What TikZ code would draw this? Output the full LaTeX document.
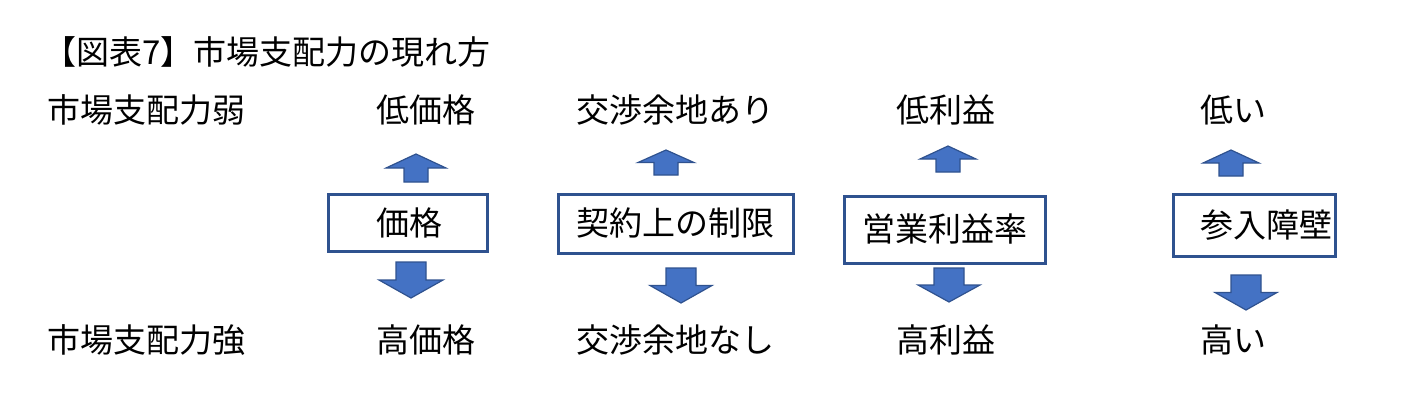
\documentclass[tikz,border=0pt]{standalone}
\usepackage{fontspec}
\setmainfont{Noto Sans CJK JP}
\definecolor{bord}{HTML}{2F528F}
\definecolor{afill}{HTML}{4472C4}
\newcommand{\uparrw}[5]{% cx, top, bottom, headhalf, shafthalf
  \draw[bord,fill=afill,line width=1.2pt] (#1-#4,{#2+(#3-#2)*0.5}) -- (#1,#2) -- (#1+#4,{#2+(#3-#2)*0.5}) -- (#1+#5,{#2+(#3-#2)*0.5}) -- (#1+#5,#3) -- (#1-#5,#3) -- (#1-#5,{#2+(#3-#2)*0.5}) -- cycle;}
\begin{document}
\begin{tikzpicture}[x=1pt,y=-1pt,
  lbl/.style={font=\fontsize{33}{33}\selectfont,inner sep=0pt},
  bx/.style={draw=bord,line width=3pt,fill=white}]
\useasboundingbox (0,0) rectangle (1404,410);
\node[lbl,anchor=west] (title) at (43,52) {【図表7】市場支配力の現れ方};
\node[lbl,anchor=west] (weak) at (47,110) {市場支配力弱};
\node[lbl,anchor=west] (strong) at (47,340) {市場支配力強};
\node[lbl] (t1) at (426,110) {低価格};
\node[lbl] (t2) at (675,110) {交渉余地あり};
\node[lbl] (t3) at (946,110) {低利益};
\node[lbl] (t4) at (1233,110) {低い};
\node[lbl] (b1) at (426,340) {高価格};
\node[lbl] (b2) at (675,340) {交渉余地なし};
\node[lbl] (b3) at (946,340) {高利益};
\node[lbl] (b4) at (1233,340) {高い};
\draw[bx] (328,194) rectangle (487,251);
\node[lbl] (k1) at (409,223) {価格};
\draw[bx] (558,194) rectangle (793,253);
\node[lbl] (k2) at (675,223) {契約上の制限};
\draw[bx] (844,196) rectangle (1045,263);
\node[lbl] (k3) at (945,229) {営業利益率};
\draw[bx] (1173,194) rectangle (1335,256);
\node[lbl] (k4) at (1266,225) {参入障壁};
% up arrows
\uparrw{416}{154}{182}{30}{12}
\uparrw{666}{150}{175}{28}{12}
\uparrw{948}{146}{172}{28}{12}
\uparrw{1231}{150}{176}{28}{12}
% down arrows
\uparrw{411}{298}{262}{32}{15}
\uparrw{681}{303}{268}{31}{15}
\uparrw{949}{302}{268}{31}{15}
\uparrw{1246}{310}{275}{31}{15}
\end{tikzpicture}
\end{document}
